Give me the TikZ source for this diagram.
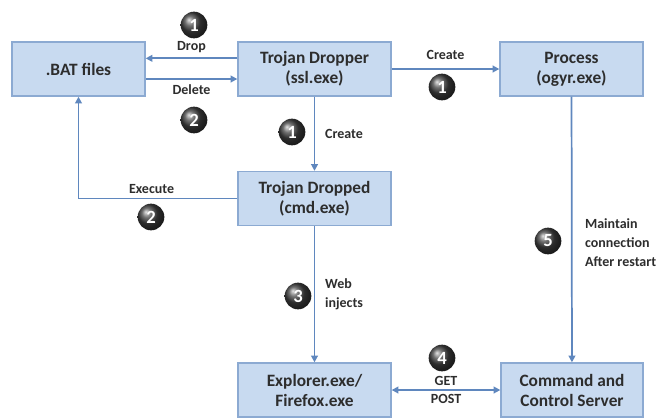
\documentclass[tikz,border=0pt]{standalone}
\usepackage{fontspec}
\setmainfont{Carlito}
\usetikzlibrary{arrows.meta}
\definecolor{boxblue}{RGB}{200,218,240}
\definecolor{edgeblue}{RGB}{140,170,210}
\definecolor{lineblue}{RGB}{95,135,190}
\definecolor{txtgray}{RGB}{45,45,45}

\begin{document}
\begin{tikzpicture}[x=0.75pt, y=-0.75pt,
  box/.style={draw=edgeblue, line width=1pt, fill=boxblue,
    minimum height=40.5pt, align=center,
    font=\fontsize{13}{15}\selectfont\bfseries, text=txtgray},
  arr/.style={-{Triangle[length=5pt,width=5pt]}, line width=1.3pt, color=lineblue},
  arrboth/.style={{Triangle[length=5pt,width=5pt]}-{Triangle[length=5pt,width=5pt]},
    line width=1.3pt, color=lineblue},
  lbl/.style={font=\fontsize{10.5}{14}\selectfont\bfseries, text=txtgray, align=left},
  badge/.style={circle, ball color=black!75, text=white, minimum size=20pt,
    inner sep=0pt, font=\fontsize{14}{14}\selectfont\bfseries}
]
  \useasboundingbox (0,0) rectangle (659,418);

  \node[box, minimum width=99.75pt]  (bat)     at (78.5,69)    {.BAT files};
  \node[box, minimum width=114.75pt] (dropper) at (314.5,69)   {Trojan Dropper\\(ssl.exe)};
  \node[box, minimum width=107.25pt] (proc)    at (571.5,69)   {Process\\(ogyr.exe)};
  \node[box, minimum width=114.75pt] (dropped) at (314.5,198.5) {Trojan Dropped\\(cmd.exe)};
  \node[box, minimum width=114.75pt] (browser) at (314.5,390)  {Explorer.exe/\\Firefox.exe};
  \node[box, minimum width=106.5pt]  (cnc)     at (572,390)    {Command and\\Control Server};

  \draw[arr] ([yshift=8pt]dropper.west) -- ([yshift=8pt]bat.east)
    node[lbl,above,midway]{Drop};
  \draw[arr] ([yshift=-7.5pt]bat.east) -- ([yshift=-7.5pt]dropper.west)
    node[lbl,below,midway]{Delete};
  \draw[arr] (dropper) -- (proc) node[lbl,above=3pt,midway]{Create};
  \draw[arr] (dropper) -- (dropped) node[lbl,right=4pt,midway]{Create};
  \draw[arr] (dropped.west) -| (bat.south) node[lbl,above,pos=0.27]{Execute};
  \draw[arr] (dropped) -- (browser) node[lbl,right=4pt,midway]{Web\\injects};
  \draw[arr] (proc) -- (cnc) node[lbl,right=6pt,pos=0.55]{Maintain\\connection\\After restart};
  \draw[arrboth] (browser) -- (cnc) node[lbl,midway,align=center]{GET\\POST};

  % step numbers
  \node[badge] (n1a) at (194,25)  {1};
  \node[badge] (n2a) at (194,120) {2};
  \node[badge] (n1b) at (292,132) {1};
  \node[badge] (n1c) at (442,87)  {1};
  \node[badge] (n2b) at (151,217) {2};
  \node[badge] (n3)  at (298,296) {3};
  \node[badge] (n5)  at (548,241) {5};
  \node[badge] (n4)  at (442,358) {4};
\end{tikzpicture}
\end{document}
